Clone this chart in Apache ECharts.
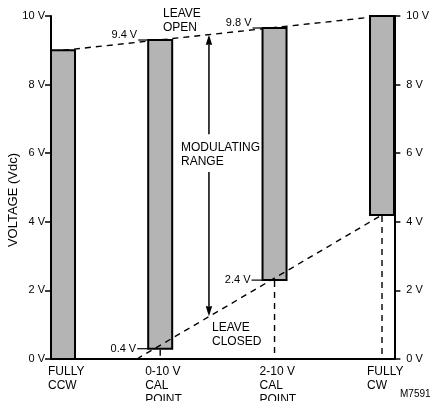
<!DOCTYPE html>
<html>
<head>
<meta charset="utf-8">
<script src="https://cdn.jsdelivr.net/npm/echarts@6/dist/echarts.min.js"></script>
<style>
html,body{margin:0;padding:0;background:#fff;}
#chart{width:432px;height:401px;}
</style>
</head>
<body>
<div id="chart"></div>
<script>
// ---- data ----
const categories = ['FULLY\nCCW', '0-10 V\nCAL\nPOINT', '2-10 V\nCAL\nPOINT', 'FULLY\nCW'];
const dialPosition = [3.5, 31.8, 65.1, 96.4];   // position along the (unlabelled) dial axis, 0-100
const lowVolts = [0, 0.3, 2.3, 4.2];
const highVolts = [9.0, 9.3, 9.65, 10.0];
const topLabels = ['', '9.4 V', '9.8 V', ''];
const bottomLabels = ['', '0.4 V', '2.4 V', ''];
const openLine = [[3.5, 9.0], [96.4, 10.0]];
const closedLine = [[25.0, 0], [96.4, 4.2]];
const rangeArrow = [[46.0, 1.25, 9.45]];
const rangeGap = [5.45, 6.55];
const yMin = 0, yMax = 10, yStep = 2;

const FONT = 'Liberation Sans, Arial, Helvetica, sans-serif';
const chart = echarts.init(document.getElementById('chart'), null, {renderer: 'canvas'});

const yAxisCommon = {
  type: 'value', min: yMin, max: yMax, interval: yStep,
  splitLine: {show: false},
  axisLine: {show: true, lineStyle: {color: '#000', width: 2}},
  axisTick: {show: true, length: 6, lineStyle: {color: '#000', width: 1.5}},
  axisLabel: {color: '#000', fontSize: 11, fontFamily: FONT, formatter: '{value} V'}
};

const option = {
  animation: false,
  backgroundColor: '#fff',
  grid: {left: 51, right: 34, top: 16, bottom: 42},
  xAxis: {
    type: 'value', min: 0, max: 100,
    splitLine: {show: false},
    axisTick: {show: false}, axisLabel: {show: false},
    axisLine: {show: true, lineStyle: {color: '#000', width: 2}}
  },
  yAxis: [
    Object.assign({}, yAxisCommon, {position: 'left', axisLabel: Object.assign({}, yAxisCommon.axisLabel, {margin: 6})}),
    Object.assign({}, yAxisCommon, {position: 'right', axisLabel: Object.assign({}, yAxisCommon.axisLabel, {margin: 12})})
  ],
  series: [
    {
      type: 'line', z: 1, data: openLine, symbol: 'none', silent: true,
      lineStyle: {color: '#000', width: 1.4, type: [6, 5]}
    },
    {
      type: 'custom', z: 2, clip: false,
      data: dialPosition.map((x, i) => [x, lowVolts[i], highVolts[i]]),
      renderItem: function (params, api) {
        const i = params.dataIndex;
        const x = api.value(0), lo = api.value(1), hi = api.value(2);
        const pl = api.coord([x, lo]), ph = api.coord([x, hi]), p0 = api.coord([x, 0]);
        const w = 24, left = pl[0] - w / 2;
        const children = [{
          type: 'rect', z2: 1,
          shape: {x: left, y: ph[1], width: w, height: pl[1] - ph[1]},
          style: {fill: '#b4b4b4', stroke: '#000', lineWidth: 2}
        }];
        if (lo > 0) {
          children.push({type: 'line', shape: {x1: pl[0], y1: pl[1] + 1, x2: pl[0], y2: p0[1]},
            style: {stroke: '#000', lineWidth: 1.4, lineDash: [6, 5]}});
        }
        if (topLabels[i]) {
          children.push({type: 'line', shape: {x1: left - 10, y1: ph[1], x2: left, y2: ph[1]}, style: {stroke: '#000', lineWidth: 1.2}});
          children.push({type: 'text', x: left - 11, y: ph[1] - 5,
            style: {text: topLabels[i], fill: '#000', font: '11px ' + FONT, align: 'right', verticalAlign: 'middle'}});
        }
        if (bottomLabels[i]) {
          children.push({type: 'line', shape: {x1: left - 11, y1: pl[1], x2: left, y2: pl[1]}, style: {stroke: '#000', lineWidth: 1.2}});
          children.push({type: 'text', x: left - 12, y: pl[1],
            style: {text: bottomLabels[i], fill: '#000', font: '11px ' + FONT, align: 'right', verticalAlign: 'middle'}});
        }
        children.push({type: 'text', x: left - 3, y: p0[1] + 6,
          style: {text: categories[i], fill: '#000', font: '12px ' + FONT, align: 'left', verticalAlign: 'top', lineHeight: 14}});
        return {type: 'group', children: children};
      }
    },
    {
      type: 'line', z: 3, data: closedLine, symbol: 'none', silent: true,
      lineStyle: {color: '#000', width: 1.4, type: [6, 5]}
    },
    {
      type: 'custom', z: 3, clip: false, data: rangeArrow,
      renderItem: function (params, api) {
        const x = api.value(0), lo = api.value(1), hi = api.value(2);
        const pb = api.coord([x, lo]), pt = api.coord([x, hi]);
        const g1 = api.coord([x, rangeGap[1]]), g0 = api.coord([x, rangeGap[0]]);
        const hl = 10, hw = 3.2;
        const st = {stroke: '#000', lineWidth: 1.5};
        return {type: 'group', children: [
          {type: 'line', shape: {x1: pt[0], y1: pt[1] + hl, x2: g1[0], y2: g1[1]}, style: st},
          {type: 'line', shape: {x1: g0[0], y1: g0[1], x2: pb[0], y2: pb[1] - hl}, style: st},
          {type: 'polygon', shape: {points: [[pt[0], pt[1]], [pt[0] - hw, pt[1] + hl], [pt[0] + hw, pt[1] + hl]]}, style: {fill: '#000'}},
          {type: 'polygon', shape: {points: [[pb[0], pb[1]], [pb[0] - hw, pb[1] - hl], [pb[0] + hw, pb[1] - hl]]}, style: {fill: '#000'}}
        ]};
      }
    }
  ],
  graphic: [
    {type: 'text', x: 13, y: 200, rotation: Math.PI / 2,
      style: {text: 'VOLTAGE (Vdc)', fill: '#000', font: '13px ' + FONT, align: 'center', verticalAlign: 'middle'}},
    {type: 'text', x: 163, y: 7, style: {text: 'LEAVE\nOPEN', fill: '#000', font: '12px ' + FONT, lineHeight: 14, verticalAlign: 'top'}},
    {type: 'text', x: 181, y: 141, style: {text: 'MODULATING\nRANGE', fill: '#000', font: '12px ' + FONT, lineHeight: 14, verticalAlign: 'top'}},
    {type: 'text', x: 212, y: 321, style: {text: 'LEAVE\nCLOSED', fill: '#000', font: '12px ' + FONT, lineHeight: 14, verticalAlign: 'top'}},
    {type: 'text', x: 400, y: 394, style: {text: 'M7591', fill: '#000', font: '10px ' + FONT, verticalAlign: 'middle'}}
  ]
};
chart.setOption(option);
</script>
</body>
</html>
